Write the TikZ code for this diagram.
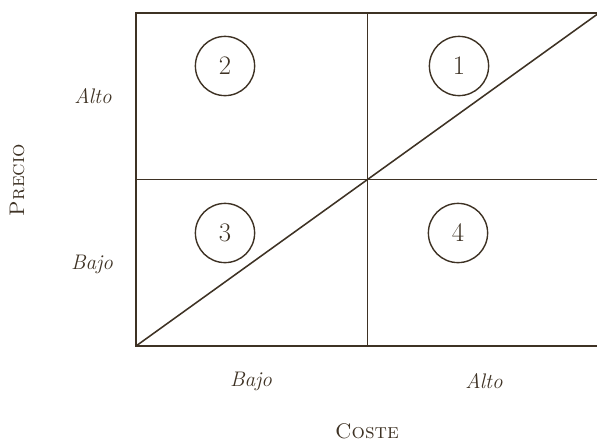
\documentclass[tikz,border=0pt]{standalone}
\usepackage{xcolor}
\usepackage{tikz}
\usetikzlibrary{positioning, calc}

\definecolor{ink}{RGB}{62,50,36}

\begin{document}
\begin{tikzpicture}[
  x=0.025cm, y=-0.025cm,
  frame/.style={draw=ink, line width=1.1pt},
  zone/.style={
    circle, draw=ink, line width=1pt, minimum size=1.48cm, inner sep=0pt,
    text=ink, font=\fontsize{19}{21}\selectfont
  },
  level/.style={text=ink, font=\fontsize{15}{17}\selectfont\itshape},
  axis/.style={text=ink, font=\fontsize{15}{17}\selectfont\scshape}
]
\useasboundingbox (0,0) rectangle (597,443);

% ==================== GRID ====================
\coordinate (sw) at (136,346);
\coordinate (ne) at (599,13);
\coordinate (c) at ($(sw)!0.5!(ne)$);
\draw[frame] (sw) rectangle (ne);
\draw[frame] (c |- sw) -- (c |- ne);
\draw[frame] (c -| sw) -- (c -| ne);
\draw[frame] (sw) -- (ne);

% ==================== ZONES ====================
\node[zone] (z2) at (225,66) {2};
\node[zone] (z1) at (459,66) {1};
\node[zone] (z3) at (225,233) {3};
\node[zone] (z4) at (458,233) {4};

% ==================== LABELS ====================
\node[level] (py) at (93,96) {Alto};
\node[level] (pn) at (92,264) {Bajo};
\node[axis, rotate=90] (precio) at (17,180) {Precio};
\node[level] (cn) at (251,381) {Bajo};
\node[level] (cy) at (484,381) {Alto};
\node[axis] (coste) at (367,431) {Coste};
\end{tikzpicture}
\end{document}
